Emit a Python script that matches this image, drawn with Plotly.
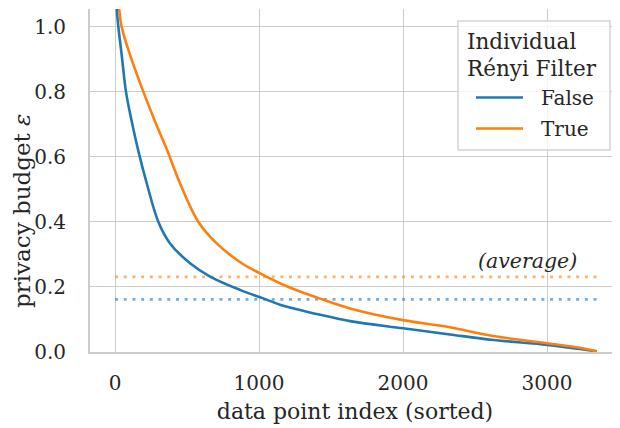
import plotly.graph_objects as go

# sorted per-point privacy budgets (index, epsilon)
idx_false = [0, 12, 23, 46, 76, 116, 162, 220, 301, 382, 521, 660, 868, 1030,
             1169, 1400, 1632, 2000, 2326, 2627, 3000, 3229, 3345]
eps_false = [1.45, 1.058, 1.0, 0.914, 0.8, 0.709, 0.618, 0.519, 0.40, 0.334,
             0.273, 0.232, 0.191, 0.165, 0.142, 0.117, 0.095, 0.073, 0.054,
             0.037, 0.022, 0.009, 0.002]

idx_true = [0, 28, 46, 104, 197, 278, 366, 451, 579, 706, 880, 1007, 1204, 1400,
            1632, 2000, 2326, 2627, 3000, 3229, 3345]
eps_true = [1.25, 1.058, 1.0, 0.914, 0.8, 0.709, 0.616, 0.519, 0.40, 0.334, 0.273,
            0.242, 0.20, 0.168, 0.134, 0.098, 0.076, 0.049, 0.027, 0.013, 0.002]

avg_false = 0.162
avg_true = 0.231
n_points = 3345

colors = {"False": "#1f77b4", "True": "#ff7f0e"}
avg_colors = {"False": "rgba(31,119,180,0.6)", "True": "rgba(255,127,14,0.6)"}
text_col = "#262626"
font_family = "DejaVu Serif"

fig = go.Figure()

# average lines
for name, avg in [("False", avg_false), ("True", avg_true)]:
    fig.add_trace(go.Scatter(
        x=[0, n_points], y=[avg, avg], mode="lines",
        line=dict(color=avg_colors[name], width=2.6, dash="3px,5.7px"),
        showlegend=False, hoverinfo="skip",
    ))

fig.add_trace(go.Scatter(x=idx_false, y=eps_false, mode="lines", name="False",
                         line=dict(color=colors["False"], width=2.6,
                                   shape="spline", smoothing=1.0),
                         showlegend=False))
fig.add_trace(go.Scatter(x=idx_true, y=eps_true, mode="lines", name="True",
                         line=dict(color=colors["True"], width=2.6,
                                   shape="spline", smoothing=1.0),
                         showlegend=False))

# plot area in page pixels: x 90..620, y 9..352 (page body has an 8px margin)
OFF = 8
L, R, T, B = 90, 620, 9, 352
W, H = 620 - OFF, 428 - OFF


def px(x):
    return (x - L) / (R - L)


def py(y):
    return (B - y) / (B - T)


shapes = [
    dict(type="rect", xref="paper", yref="paper",
         x0=px(458), x1=px(610), y0=py(150), y1=py(21),
         fillcolor="rgba(255,255,255,0.8)",
         line=dict(color="#d4d4d4", width=1.5), layer="above"),
]
annotations = []
for name, ly in [("False", 97.5), ("True", 128.5)]:
    shapes.append(dict(type="line", xref="paper", yref="paper",
                       x0=px(476), x1=px(523), y0=py(ly), y1=py(ly),
                       line=dict(color=colors[name], width=2.6), layer="above"))
    annotations.append(dict(xref="paper", yref="paper", x=px(539), y=py(ly),
                            text=name, showarrow=False, xanchor="left",
                            yanchor="middle",
                            font=dict(size=20, color=text_col, family=font_family)))

for txt, ty in [("Individual", 41), ("Rényi Filter", 68.5)]:
    annotations.append(dict(xref="paper", yref="paper", x=px(465), y=py(ty),
                            text=txt, showarrow=False, xanchor="left",
                            yanchor="middle",
                            font=dict(size=21.5, color=text_col, family=font_family)))

annotations.append(dict(x=2865, y=0.28, text="<i>(average)</i>", showarrow=False,
                        xanchor="center", yanchor="middle",
                        font=dict(size=20.5, color=text_col, family=font_family)))

annotations.append(dict(xref="paper", yref="paper", x=px(22.5), y=py(211.5),
                        text="privacy budget <i>ε</i>", showarrow=False,
                        textangle=-90, xanchor="center", yanchor="middle",
                        font=dict(size=23, color=text_col, family=font_family)))

fig.update_layout(
    width=W, height=H,
    margin=dict(l=L - OFF, r=620 - R, t=T - OFF, b=428 - B),
    plot_bgcolor="white", paper_bgcolor="white",
    font=dict(family=font_family, size=20, color=text_col),
    shapes=shapes, annotations=annotations,
)
fig.update_xaxes(
    range=[-174, 3507], tickvals=[0, 1000, 2000, 3000],
    showgrid=True, gridcolor="#cccccc", gridwidth=1.4, zeroline=False,
    showline=True, linecolor="#cccccc", linewidth=2,
    ticks="", ticklabelstandoff=12,
    tickfont=dict(size=20, color=text_col, family=font_family),
    title=dict(text="data point index (sorted)", standoff=10,
               font=dict(size=22, color=text_col, family=font_family)),
)
fig.update_yaxes(
    range=[0, 1.055], tickvals=[0, 0.2, 0.4, 0.6, 0.8, 1.0],
    ticktext=["0.0", "0.2", "0.4", "0.6", "0.8", "1.0"],
    showgrid=True, gridcolor="#cccccc", gridwidth=1.4, zeroline=False,
    showline=True, linecolor="#cccccc", linewidth=2,
    ticks="", ticklabelstandoff=18,
    tickfont=dict(size=20, color=text_col, family=font_family),
)

fig.write_html("out.html")
